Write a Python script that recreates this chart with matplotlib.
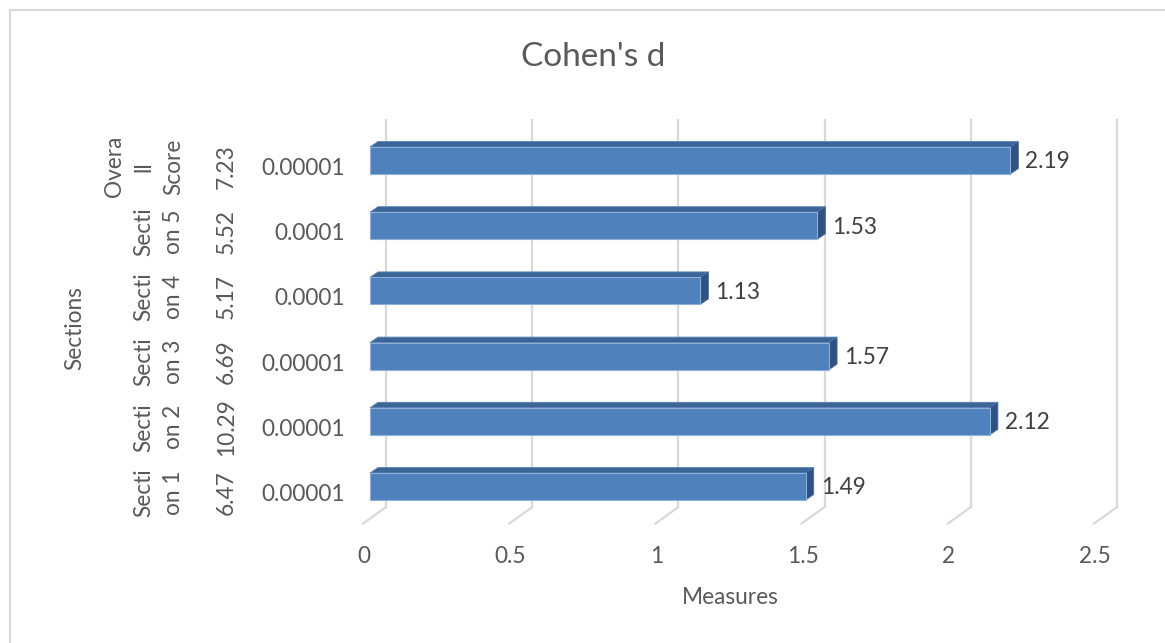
import matplotlib
matplotlib.use("Agg")
import matplotlib.pyplot as plt
import matplotlib.transforms as mtransforms
from matplotlib.patches import Rectangle, Polygon
from matplotlib.lines import Line2D

# ---------------- data ----------------
title = "Cohen's d"
x_title = "Measures"
y_title = "Sections"
section_labels = ["Secti\non 1", "Secti\non 2", "Secti\non 3", "Secti\non 4", "Secti\non 5", "Overa\nll\nScore"]
t_values = ["6.47", "10.29", "6.69", "5.17", "5.52", "7.23"]
p_values = ["0.00001", "0.00001", "0.00001", "0.0001", "0.0001", "0.00001"]
cohens_d = [1.49, 2.12, 1.57, 1.13, 1.53, 2.19]
x_ticks = [0, 0.5, 1, 1.5, 2, 2.5]
x_tick_labels = ["0", "0.5", "1", "1.5", "2", "2.5"]

# ---------------- style ----------------
FONT = ["Lato", "DejaVu Sans"]
plt.rcParams["font.family"] = FONT
W, H = 1165, 643
DPI = 100
FRONT = "#4F81BD"
TOP = "#3C6597"
SIDE = "#2F5282"
GRID = "#D9D9D9"
TXT = "#595959"
LBL = "#404040"
FS = 16.3

fig = plt.figure(figsize=(W / DPI, H / DPI), dpi=DPI)
fig.patch.set_facecolor("white")

# chart border (only top/left visible in the crop)
fig.add_artist(Rectangle((10 / W, -0.1), 1.2, 1 - 10 / H + 0.1, transform=fig.transFigure,
                         fill=False, edgecolor=GRID, linewidth=1.5))

# plot area (front plane)
ax_left, ax_right, ax_top, ax_bottom = 370, 1101, 127.9, 519.1
ax = fig.add_axes([ax_left / W, (H - ax_bottom) / H, (ax_right - ax_left) / W, (ax_bottom - ax_top) / H])
ax.set_xlim(0, 2.5)
ax.set_ylim(-0.5, len(cohens_d) - 0.5)
ax.axis("off")

ident = mtransforms.IdentityTransform()


def disp(x, y, dx=0.0, dy=0.0, trans=None):
    t = ax.transData if trans is None else trans
    px, py = t.transform((x, y))
    return (px + dx, py + dy)


blend = mtransforms.blended_transform_factory(ax.transData, ax.transAxes)

# back-wall gridlines + floor diagonals
DEPTH_GX, GY_BOT = 16, 12.1
for v in x_ticks:
    p_bot = disp(v, 0, DEPTH_GX, GY_BOT, blend)
    p_top = disp(v, 1, DEPTH_GX, 8, blend)
    fig.add_artist(Line2D([p_bot[0], p_top[0]], [p_bot[1], p_top[1]], transform=ident,
                          color=GRID, linewidth=1.6, zorder=1))
    p_fl = disp(v, 0, -7, -4.5, blend)
    fig.add_artist(Line2D([p_bot[0], p_fl[0]], [p_bot[1], p_fl[1]], transform=ident,
                          color=GRID, linewidth=1.6, zorder=1))

# 3D-looking bars
BAR_H = 0.414
DX, DY = 8, 5.5
for i, v in enumerate(cohens_d):
    y0, y1 = i - BAR_H / 2, i + BAR_H / 2
    front = [disp(0, y0), disp(v, y0), disp(v, y1), disp(0, y1)]
    top = [disp(0, y1), disp(v, y1), disp(v, y1, DX, DY), disp(0, y1, DX, DY)]
    side = [disp(v, y0), disp(v, y1), disp(v, y1, DX, DY), disp(v, y0, DX, DY)]
    fig.add_artist(Polygon(top, closed=True, transform=ident, facecolor=TOP,
                           edgecolor="#5A83B8", linewidth=0.6, zorder=3))
    fig.add_artist(Polygon(side, closed=True, transform=ident, facecolor=SIDE,
                           edgecolor="#4A6E9E", linewidth=0.6, zorder=3))
    fig.add_artist(Polygon(front, closed=True, transform=ident, facecolor=FRONT,
                           edgecolor="#8DB0DA", linewidth=0.8, zorder=4))
    lx, ly = disp(v, i, 15, -1.5)
    fig.text(lx / W, ly / H, f"{v:.2f}", ha="left", va="center", fontsize=FS,
             color=LBL, zorder=5)

# x tick labels
for v, s in zip(x_ticks, x_tick_labels):
    px, _ = disp(v, 0)
    fig.text((px - 6) / W, (H - 563) / H, s, ha="center", va="baseline", fontsize=FS, color=TXT)

# multi-level category labels
for i in range(len(cohens_d)):
    _, py = disp(0, i)
    fig.text(345 / W, (py - 14.5) / H, p_values[i], ha="right", va="baseline",
             fontsize=FS, color=TXT)
    fig.text(233 / W, (py - 6) / H, t_values[i], ha="center", va="baseline",
             rotation=90, rotation_mode="anchor", fontsize=FS, color=TXT)
    fig.text(184 / W, (py - 6) / H, section_labels[i], ha="center", va="bottom",
             rotation=90, rotation_mode="anchor", fontsize=FS, color=TXT,
             linespacing=1.5, multialignment="center")

# titles
fig.text(730 / W, (H - 604) / H, x_title, ha="center", va="baseline", fontsize=FS, color=TXT)
fig.text(81 / W, (H - 328) / H, y_title, ha="center", va="baseline", rotation=90,
         rotation_mode="anchor", fontsize=FS, color=TXT)
fig.text(593 / W, (H - 66) / H, title, ha="center", va="baseline", fontsize=24, color=TXT)

fig.savefig("out.png", dpi=DPI, facecolor="white")
